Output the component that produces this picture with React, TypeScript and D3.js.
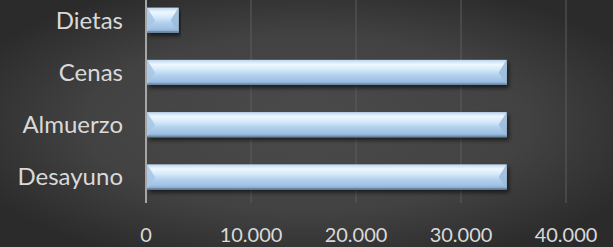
import React from "react";
import * as d3 from "d3";

// categories top to bottom, as shown
const categories = ["Dietas", "Cenas", "Almuerzo", "Desayuno"];
const values = [3100, 34350, 34350, 34350];
const ticks = [0, 10000, 20000, 30000, 40000];

const W = 613;
const H = 247;

const fmt = d3.formatLocale({ decimal: ",", thousands: ".", grouping: [3], currency: ["", "€"] }).format(",d");

const App = () => {
  const x = d3.scaleLinear().domain([0, 40000]).range([146, 566]);
  const y = d3.scaleBand().domain(categories).range([-6, 203]).paddingInner(0.52).paddingOuter(0.26);
  const bh = y.bandwidth();
  const bev = 8;

  return (
    <svg width={W} height={H} style={{ position: "absolute", left: 0, top: 0 }}>
      <defs>
        <radialGradient id="bg" cx="50%" cy="50%" r="60%">
          <stop offset="0%" stopColor="#4b4b4b" />
          <stop offset="60%" stopColor="#424242" />
          <stop offset="100%" stopColor="#2b2b2b" />
        </radialGradient>
        <linearGradient id="bar" x1="0" y1="0" x2="0" y2="1">
          <stop offset="0%" stopColor="#bcd6ef" />
          <stop offset="18%" stopColor="#eef8ff" />
          <stop offset="40%" stopColor="#d3e8fb" />
          <stop offset="60%" stopColor="#b3d1ee" />
          <stop offset="85%" stopColor="#9fc0e3" />
          <stop offset="100%" stopColor="#7f9fc0" />
        </linearGradient>
        <filter id="sh" x="-5%" y="-30%" width="110%" height="170%">
          <feGaussianBlur in="SourceAlpha" stdDeviation="2" />
          <feOffset dx="2" dy="3" result="b" />
          <feComponentTransfer>
            <feFuncA type="linear" slope="0.6" />
          </feComponentTransfer>
          <feMerge>
            <feMergeNode />
            <feMergeNode in="SourceGraphic" />
          </feMerge>
        </filter>
      </defs>
      <rect x={0} y={0} width={W} height={H} fill="url(#bg)" />

      {ticks.slice(1).map((t) => (
        <line key={t} x1={x(t)} x2={x(t)} y1={0} y2={203} stroke="#5c5c5c" strokeWidth={1} />
      ))}

      {categories.map((c, i) => {
        const x0 = x(0) + 1;
        const x1 = x(values[i]);
        const y0 = y(c)!;
        const y1 = y0 + bh;
        const ym = y0 + bh / 2;
        const b = Math.min(bev, (x1 - x0) / 2);
        return (
          <g key={c} filter="url(#sh)">
            <rect x={x0} y={y0} width={x1 - x0} height={bh} fill="url(#bar)" />
            <polygon points={`${x0},${y0} ${x0 + b},${ym} ${x0},${y1}`} fill="#a8c6e6" opacity={0.9} />
            <polygon points={`${x1},${y0} ${x1 - b},${ym} ${x1},${y1}`} fill="#9dbbdb" opacity={0.9} />
            <rect x={x0} y={y1 - 1.5} width={x1 - x0} height={1.5} fill="#6d8aa9" />
          </g>
        );
      })}

      <line x1={x(0)} x2={x(0)} y1={0} y2={203} stroke="#a6a6a6" strokeWidth={2} />

      {categories.map((c) => (
        <text
          key={c}
          x={123}
          y={y(c)! + bh / 2 + 8.5}
          textAnchor="end"
          fill="#d9d9d9"
          fontFamily="Lato, sans-serif"
          fontSize={24}
        >
          {c}
        </text>
      ))}

      {ticks.map((t) => (
        <text
          key={t}
          x={x(t)}
          y={242}
          textAnchor="middle"
          fill="#d9d9d9"
          fontFamily="Lato, sans-serif"
          fontSize={20}
        >
          {fmt(t)}
        </text>
      ))}
    </svg>
  );
};

export default App;
